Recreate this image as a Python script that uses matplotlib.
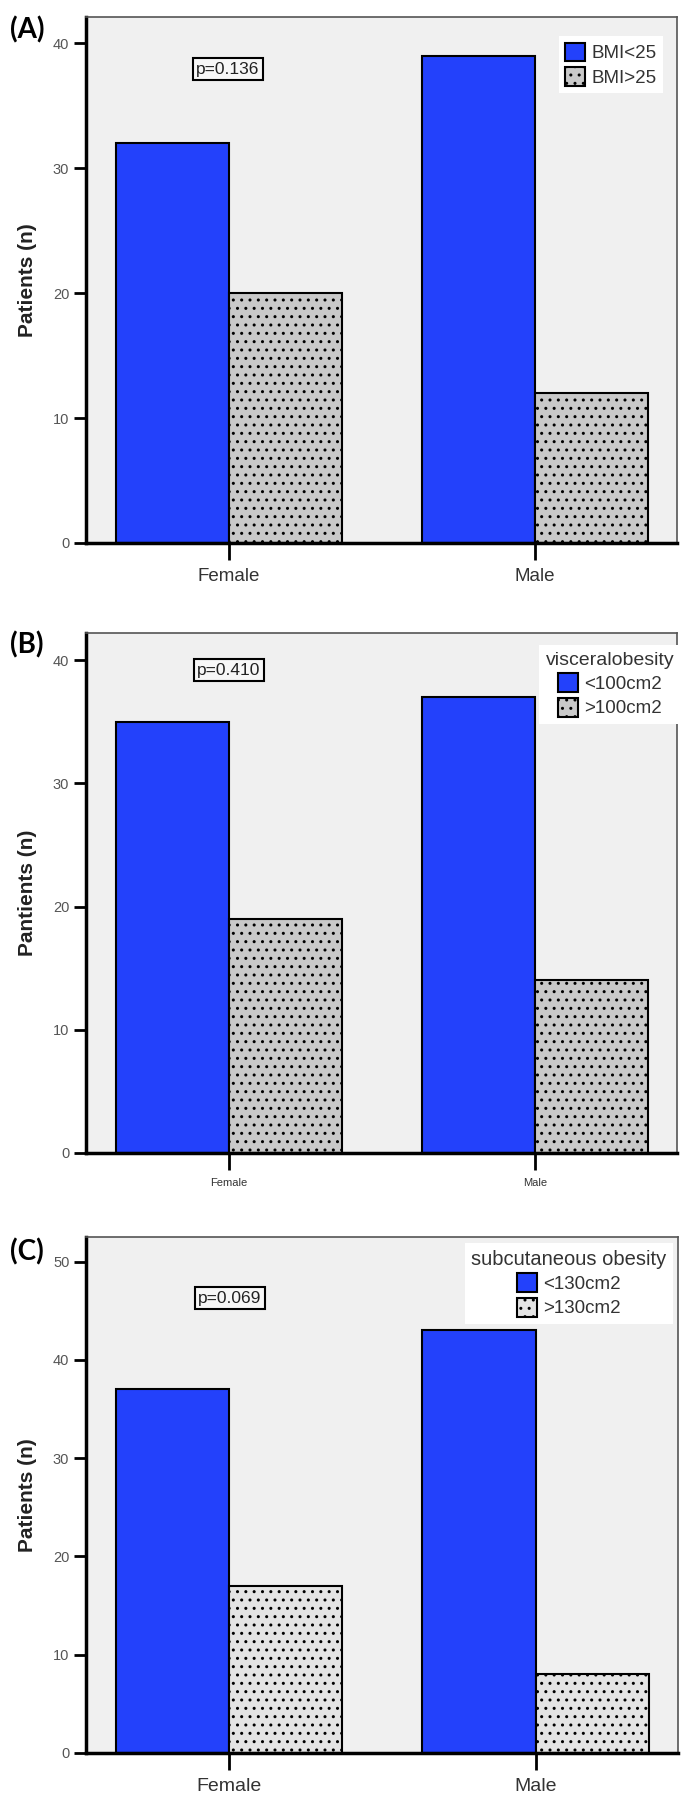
import numpy as np
import matplotlib.pyplot as plt

categories = ['Female', 'Male']

bmi_low = [32, 39]
bmi_high = [20, 12]
visceral_low = [35, 37]
visceral_high = [19, 14]
subcut_low = [37, 43]
subcut_high = [17, 8]

panel_labels = ['(A)', '(B)', '(C)']
p_texts = ['p=0.136', 'p=0.410', 'p=0.069']
y_labels = ['Patients (n)', 'Pantients (n)', 'Patients (n)']
legend_titles = [None, 'visceralobesity', 'subcutaneous obesity']
legend_labels = [['BMI<25', 'BMI>25'], ['<100cm2', '>100cm2'], ['<130cm2', '>130cm2']]
y_ticks = [[0, 10, 20, 30, 40], [0, 10, 20, 30, 40], [0, 10, 20, 30, 40, 50]]
y_tops = [42.1, 42.2, 52.5]

W, H = 695, 1804
BLUE = '#2341fb'
BG = '#f0f0f0'
REG = ['Liberation Sans', 'DejaVu Sans']

plt.rcParams['hatch.linewidth'] = 1.0

fig = plt.figure(figsize=(W / 100, H / 100), dpi=100)

# axes frames in pixels: (left, top, right, bottom)
frames = [(86, 17, 677, 543), (86, 633, 677, 1153), (86, 1237, 678, 1753)]
grey_fill = ['#c9c9c9', '#c9c9c9', '#e4e4e4']
xlab_size = [13.5, 8, 14]
p_pos = [(228, 69), (229, 670), (230, 1298)]
leg_anchor = [(663, 36), (681, 645), (673, 1243)]
label_pos = [(10, 30), (10, 645), (10, 1252)]

series = [(bmi_low, bmi_high), (visceral_low, visceral_high), (subcut_low, subcut_high)]

for i in range(3):
    l, t, r, b = frames[i]
    ax = fig.add_axes([l / W, 1 - b / H, (r - l) / W, (b - t) / H])
    ax.set_facecolor(BG)
    x = np.arange(len(categories))
    w = 0.37
    low, high = series[i]
    b1 = ax.bar(x - w / 2, low, w, color=BLUE, edgecolor='black', linewidth=1.5,
                label=legend_labels[i][0], zorder=2)
    b2 = ax.bar(x + w / 2, high, w, color=grey_fill[i], edgecolor='black', linewidth=1.5,
                hatch='..', label=legend_labels[i][1], zorder=2)
    ax.set_xlim(-0.467, 1.465)
    ax.set_ylim(0, y_tops[i])
    ax.set_yticks(y_ticks[i])
    ax.set_xticks(x)
    ax.set_xticklabels(categories, fontsize=xlab_size[i], family=REG, color='#333333')
    for lab in ax.get_yticklabels():
        lab.set_fontsize(10.5)
        lab.set_family(REG)
        lab.set_color('#555555')
    ax.tick_params(axis='y', length=9, width=2, pad=3, color='black')
    ax.tick_params(axis='x', length=12, width=2, pad=6, color='black')
    for s in ['left', 'bottom']:
        ax.spines[s].set_linewidth(2.5)
        ax.spines[s].set_color('black')
    for s in ['top', 'right']:
        ax.spines[s].set_linewidth(1.2)
        ax.spines[s].set_color('#555555')

    ax.set_ylabel(y_labels[i], fontsize=15, fontweight='bold', family=REG, color='#222222')
    ax.yaxis.set_label_coords(-0.083, 0.5)

    px, py = p_pos[i]
    ax.text((px - l) / (r - l), (b - py) / (b - t), p_texts[i], transform=ax.transAxes,
            ha='center', va='center', fontsize=12.5, family=REG, color='#222222',
            bbox=dict(boxstyle='square,pad=0.2', facecolor='#f7f7f7', edgecolor='black',
                      linewidth=1.5), zorder=5)

    ax_, ay_ = leg_anchor[i]
    leg = ax.legend(handles=[b1, b2], loc='upper right',
                    bbox_to_anchor=((ax_ - l) / (r - l), (b - ay_) / (b - t)),
                    borderaxespad=0, frameon=True, fancybox=False, framealpha=1,
                    facecolor='white', edgecolor='none',
                    title=legend_titles[i], title_fontsize=14.5 if i == 2 else 14,
                    handlelength=1.07, handleheight=1.17, handletextpad=0.32,
                    labelspacing=0.25, borderpad=0.35, prop={'family': REG, 'size': 13.5})
    for txt in leg.get_texts():
        txt.set_color('#333333')
    if leg.get_title() is not None:
        leg.get_title().set_color('#333333')
        leg.get_title().set_family(REG)
    leg.set_zorder(6)

    lx, ly = label_pos[i]
    fig.text(lx / W, 1 - ly / H, panel_labels[i], fontsize=20, fontweight='bold',
             family=['Lato', 'DejaVu Sans'], ha='left', va='center')

fig.savefig('out.png', dpi=100, facecolor='white')
